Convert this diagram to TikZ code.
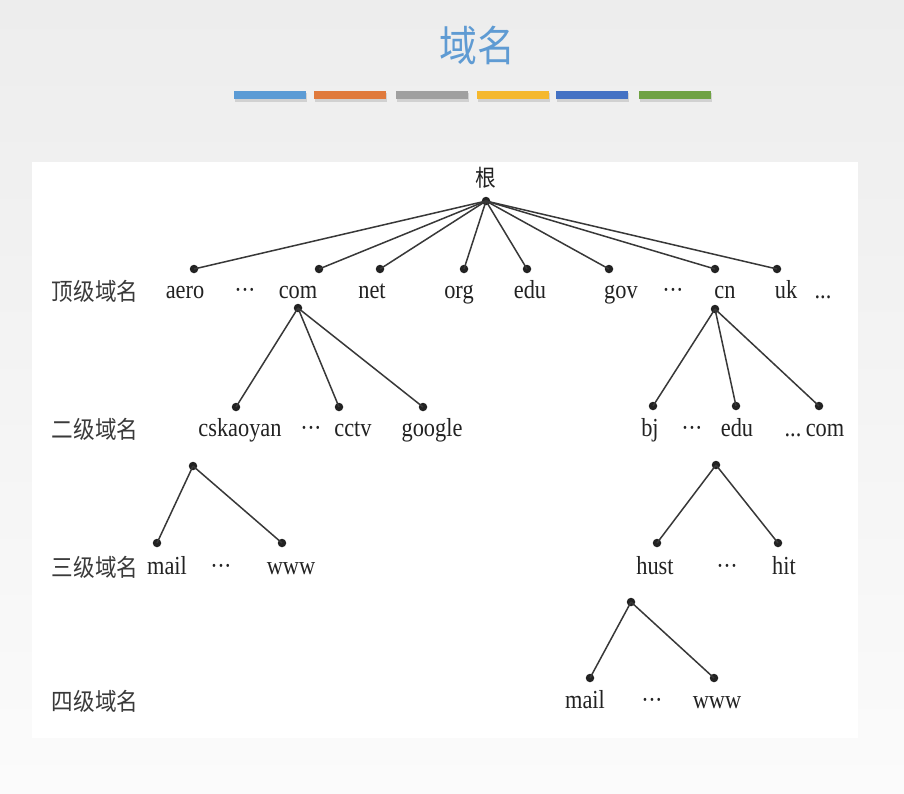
\documentclass[tikz,border=0pt]{standalone}
\usepackage{fontspec}
\newfontfamily\tr{Liberation Serif}[FakeStretch=0.86]
\newfontfamily\cjk{Noto Sans CJK SC}[FakeStretch=0.9]
\definecolor{bgtop}{HTML}{EDEDED}
\definecolor{bgbot}{HTML}{FBFBFB}
\definecolor{titleblue}{HTML}{5F9BD3}
\definecolor{barA}{HTML}{5B9BD5}
\definecolor{barB}{HTML}{E07A3C}
\definecolor{barC}{HTML}{A0A0A0}
\definecolor{barD}{HTML}{F5B82E}
\definecolor{barE}{HTML}{4472C4}
\definecolor{barF}{HTML}{6FA243}
\definecolor{ink}{HTML}{222222}
\definecolor{lvl}{HTML}{3A3A3A}
\newcommand{\middots}{·\kern-0.5pt·\kern-0.5pt·}
\begin{document}
\begin{tikzpicture}[x=1pt,y=-1pt,
  dot/.style={circle,fill=ink,inner sep=0pt,minimum size=8.5pt},
  lab/.style={inner sep=0pt,text=ink,font=\tr\fontsize{26}{30}\selectfont,anchor=base},
  lvlab/.style={inner sep=0pt,text=lvl,font=\cjk\fontsize{24}{28}\selectfont,anchor=base},
  edge/.style={draw=ink!90,line width=1.5pt}]
\useasboundingbox (0,0) rectangle (904,793);
\shade[top color=bgtop,bottom color=bgbot] (0,0) rectangle (904,793);
\fill[white] (32,162) rectangle (858,738);
% title
\node[inner sep=0pt,text=titleblue,font=\cjk\fontsize{42}{48}\selectfont] (title) at (477,45) {域名};
% bars
\foreach \x/\c in {234/barA,314/barB,396/barC,477/barD,556/barE,639/barF}{
  \fill[black!18] (\x+1,93) rectangle (\x+73,102);
  \fill[\c] (\x,91) rectangle (\x+72,99);
}
% level labels
\node[lvlab] (L1) at (95,300) {顶级域名};
\node[lvlab] (L2) at (95,438) {二级域名};
\node[lvlab] (L3) at (95,576) {三级域名};
\node[lvlab] (L4) at (95,710) {四级域名};
% root
\node[inner sep=0pt,text=ink,font=\cjk\fontsize{23}{26}\selectfont] (rootlab) at (486,178) {根};
\node[dot] (root) at (486,201) {};
% top level dots
\node[dot] (aero) at (194,269) {};
\node[dot] (com) at (319,269) {};
\node[dot] (net) at (380,269) {};
\node[dot] (org) at (464,269) {};
\node[dot] (edu) at (527,269) {};
\node[dot] (gov) at (609,269) {};
\node[dot] (cn) at (715,269) {};
\node[dot] (uk) at (777,269) {};
\foreach \n in {aero,com,net,org,edu,gov,cn,uk}{\draw[edge] (root.center) -- (\n.center);}
% top level labels
\node[lab] (taero) at (185,298) {aero};
\node[lab] (td1) at (245,298) {\middots};
\node[lab] (tcom) at (298,298) {com};
\node[lab] (tnet) at (372,298) {net};
\node[lab] (torg) at (459,298) {org};
\node[lab] (tedu) at (530,298) {edu};
\node[lab] (tgov) at (621,298) {gov};
\node[lab] (td2) at (673,298) {\middots};
\node[lab] (tcn) at (725,298) {cn};
\node[lab] (tuk) at (786,298) {uk};
\node[lab] (td3) at (823,298) {...};
% com subtree
\node[dot] (comp) at (298,308) {};
\node[dot] (csk) at (236,407) {};
\node[dot] (cctv) at (339,407) {};
\node[dot] (goog) at (423,407) {};
\foreach \n in {csk,cctv,goog}{\draw[edge] (comp.center) -- (\n.center);}
\node[lab] (tcsk) at (240,436) {cskaoyan};
\node[lab] (sd1) at (311,436) {\middots};
\node[lab] (tcctv) at (353,436) {cctv};
\node[lab] (tgoog) at (432,436) {google};
% cn subtree
\node[dot] (cnp) at (715,309) {};
\node[dot] (bj) at (653,406) {};
\node[dot] (cnedu) at (736,406) {};
\node[dot] (cncom) at (819,406) {};
\foreach \n in {bj,cnedu,cncom}{\draw[edge] (cnp.center) -- (\n.center);}
\node[lab] (tbj) at (650,436) {bj};
\node[lab] (sd2) at (692,436) {\middots};
\node[lab] (tcnedu) at (737,436) {edu};
\node[lab] (sd3) at (793,436) {...};
\node[lab] (tcncom) at (825,436) {com};
% cskaoyan subtree
\node[dot] (cskp) at (193,466) {};
\node[dot] (mail1) at (157,543) {};
\node[dot] (www1) at (282,543) {};
\foreach \n in {mail1,www1}{\draw[edge] (cskp.center) -- (\n.center);}
\node[lab] (tmail1) at (167,574) {mail};
\node[lab] (td4) at (221,574) {\middots};
\node[lab] (twww1) at (291,574) {www};
% edu subtree
\node[dot] (edup) at (716,465) {};
\node[dot] (hust) at (657,543) {};
\node[dot] (hit) at (778,543) {};
\foreach \n in {hust,hit}{\draw[edge] (edup.center) -- (\n.center);}
\node[lab] (thust) at (655,574) {hust};
\node[lab] (td5) at (727,574) {\middots};
\node[lab] (thit) at (784,574) {hit};
% hust subtree
\node[dot] (hustp) at (631,602) {};
\node[dot] (mail2) at (590,678) {};
\node[dot] (www2) at (714,678) {};
\foreach \n in {mail2,www2}{\draw[edge] (hustp.center) -- (\n.center);}
\node[lab] (tmail2) at (585,708) {mail};
\node[lab] (td6) at (652,708) {\middots};
\node[lab] (twww2) at (717,708) {www};
\end{tikzpicture}
\end{document}
